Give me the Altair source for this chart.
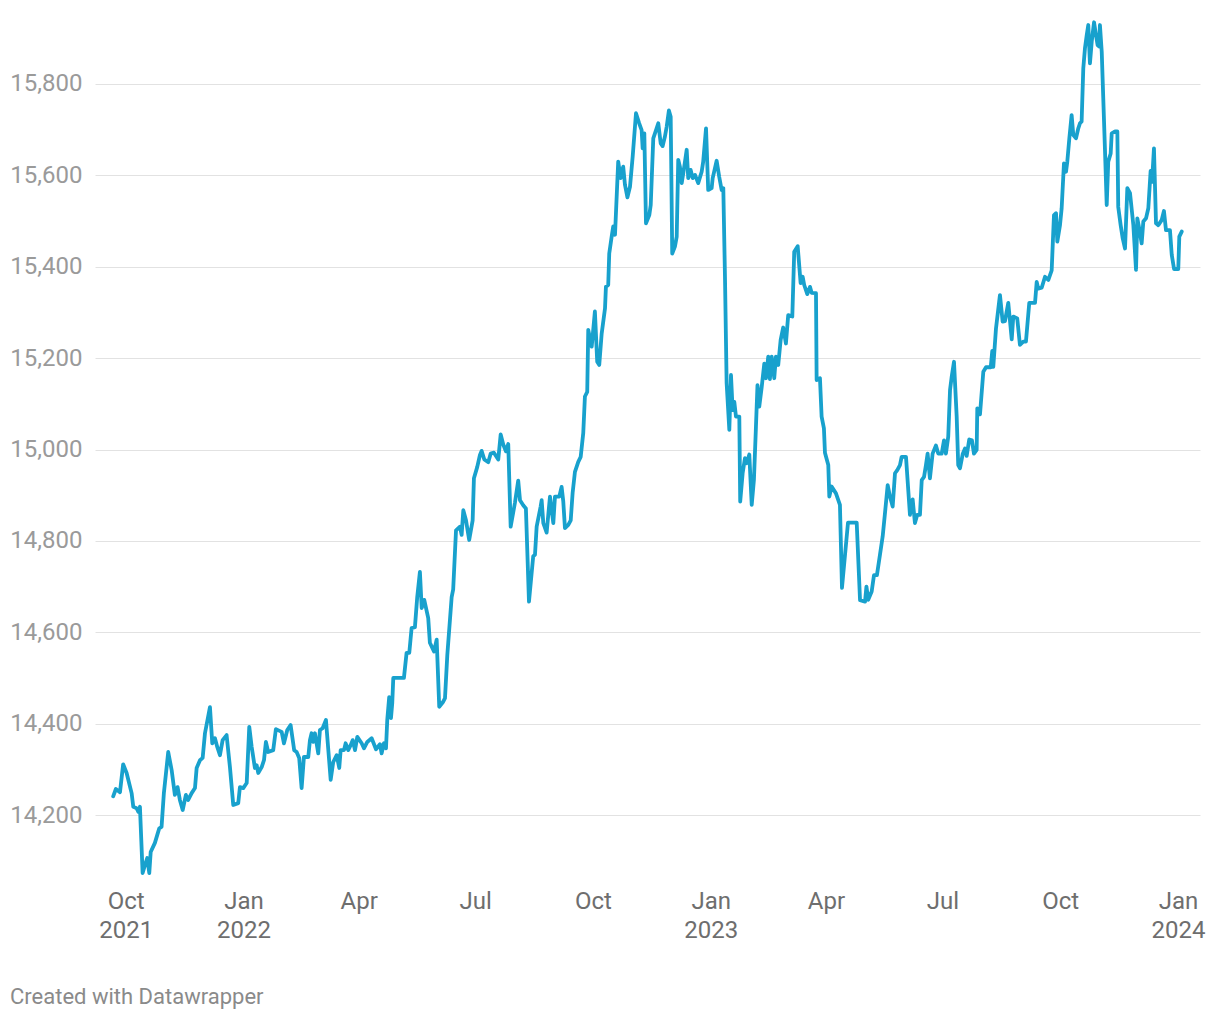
import altair as alt
import pandas as pd

# days after 2021-10-01
days = [
    -9.8, -7.7, -4.5, -2.0, 0.7, 4.6, 5.9, 8.5, 9.8, 11.1, 13.2, 15.0, 16.8, 18.4, 19.5, 22.8, 24.6, 26.2, 28.0, 29.8,
    33.2, 35.9, 38.4, 40.5, 42.3, 44.5, 47.0, 48.8, 51.5, 54.1, 55.4, 58.0, 60.1, 61.9, 65.8, 67.6, 69.7, 71.5, 73.6, 75.7,
    78.8, 81.4, 84.0, 87.9, 89.2, 91.8, 94.5, 96.5, 98.4, 100.9, 102.3, 103.5, 106.2, 108.0, 109.5, 111.3, 115.2, 117.3, 121.8, 123.6,
    126.2, 128.8, 131.6, 133.5, 135.5, 137.4, 139.2, 142.6, 143.9, 145.2, 146.5, 147.8, 150.4, 151.7, 153.8, 156.4, 160.1, 162.1, 164.8, 166.8,
    167.9, 170.5, 171.8, 173.8, 175.7, 177.3, 179.1, 180.9, 184.3, 186.1, 188.7, 192.1, 195.5, 198.6, 199.9, 201.7, 203.3, 204.3, 205.8, 207.2,
    208.2, 209.0, 217.3, 219.4, 221.5, 223.3, 225.9, 227.7, 229.8, 231.2, 233.2, 236.3, 237.6, 240.8, 242.9, 244.9, 248.0, 249.4, 251.2, 254.6,
    255.8, 258.0, 261.1, 262.4, 263.7, 265.8, 268.3, 271.0, 272.0, 274.6, 276.7, 278.0, 280.1, 283.2, 285.1, 287.6, 291.0, 292.9, 294.9, 297.0,
    298.8, 300.7, 304.0, 306.6, 308.0, 310.5, 312.6, 315.0, 318.3, 319.7, 321.0, 324.1, 324.9, 326.2, 328.8, 331.4, 334.0, 335.3, 338.7, 340.5,
    341.8, 343.1, 345.7, 347.6, 349.1, 350.9, 353.5, 355.4, 357.4, 358.7, 360.5, 361.3, 364.0, 366.5, 368.3, 369.9, 371.8, 374.4, 375.1, 376.9,
    377.7, 379.6, 380.8, 382.2, 384.7, 386.6, 388.6, 390.0, 391.9, 393.9, 396.0, 398.6, 401.1, 403.0, 403.8, 405.1, 406.4, 409.0, 410.1, 412.1,
    414.7, 416.0, 417.9, 419.4, 421.2, 422.6, 424.3, 425.7, 426.9, 429.0, 430.4, 431.6, 432.9, 434.3, 435.5, 438.2, 439.4, 441.3, 442.9, 444.7,
    447.2, 449.9, 451.1, 453.3, 455.0, 457.7, 458.5, 461.6, 463.6, 465.5, 466.8, 468.1, 469.4, 471.5, 472.8, 474.1, 475.4, 476.7, 479.3, 480.0,
    481.9, 483.7, 485.0, 487.1, 489.0, 490.7, 492.3, 493.5, 494.9, 496.8, 498.8, 500.1, 501.9, 503.2, 504.6, 506.6, 507.9, 509.7, 511.6, 513.6,
    515.7, 517.5, 520.7, 522.2, 524.9, 527.2, 528.8, 530.0, 532.4, 534.5, 535.8, 539.2, 539.7, 542.3, 543.6, 545.4, 546.2, 548.8, 549.6, 551.4,
    554.8, 557.9, 559.5, 564.2, 571.0, 573.6, 577.5, 578.6, 580.0, 582.7, 584.5, 586.8, 589.2, 591.3, 593.1, 595.2, 597.0, 599.1, 600.9, 602.7,
    604.8, 606.1, 609.5, 612.6, 614.7, 616.5, 618.3, 620.4, 621.8, 623.6, 625.1, 626.4, 628.2, 630.3, 632.9, 634.7, 637.4, 639.2, 640.7, 642.5,
    643.9, 645.2, 647.0, 649.1, 650.3, 651.7, 653.8, 655.6, 656.9, 658.9, 661.0, 662.6, 664.7, 665.2, 667.3, 669.9, 672.0, 675.7, 676.9, 677.7,
    679.8, 682.9, 685.0, 686.8, 689.4, 692.1, 693.3, 696.4, 698.5, 701.1, 703.2, 705.8, 710.3, 711.6, 712.8, 715.5, 718.1, 720.7, 723.3, 725.1,
    726.7, 727.7, 729.8, 731.1, 732.9, 734.5, 735.5, 737.1, 738.9, 740.2, 742.3, 744.1, 745.4, 746.7, 748.0, 749.3, 750.7, 751.9, 753.2, 754.6,
    756.4, 757.9, 759.2, 760.3, 761.0, 762.4, 763.6, 764.9, 766.3, 767.5, 769.4, 770.2, 772.8, 774.6, 775.3, 777.2, 778.8, 780.6, 782.4, 784.5,
    787.1, 789.2, 790.2, 791.7, 793.6, 794.9, 797.0, 798.8, 800.6, 801.7, 803.2, 804.8, 806.6, 809.2, 811.0, 812.6, 815.7, 817.1, 818.9, 822.2,
    823.0, 824.9,
]

values = [
    14241, 14257, 14250, 14311, 14292, 14248, 14218, 14215, 14207, 14218, 14073, 14090, 14106, 14073, 14119, 14139, 14156, 14171, 14174, 14248,
    14338, 14298, 14244, 14261, 14233, 14211, 14244, 14233, 14248, 14259, 14303, 14320, 14325, 14379, 14436, 14357, 14368, 14349, 14331, 14364,
    14375, 14305, 14222, 14226, 14261, 14259, 14270, 14393, 14349, 14303, 14309, 14292, 14305, 14320, 14360, 14338, 14342, 14388, 14382, 14357,
    14386, 14397, 14342, 14338, 14325, 14259, 14327, 14327, 14364, 14379, 14360, 14379, 14335, 14386, 14390, 14408, 14277, 14316, 14331, 14303,
    14342, 14342, 14357, 14342, 14353, 14364, 14342, 14371, 14357, 14346, 14360, 14368, 14344, 14355, 14335, 14357, 14346, 14408, 14458, 14412,
    14445, 14500, 14500, 14555, 14555, 14609, 14611, 14677, 14732, 14653, 14671, 14631, 14577, 14558, 14584, 14437, 14448, 14456, 14550, 14677,
    14694, 14823, 14831, 14813, 14867, 14845, 14802, 14845, 14937, 14962, 14988, 14997, 14978, 14972, 14991, 14993, 14978, 15033, 15011, 14996,
    15012, 14831, 14883, 14932, 14889, 14878, 14871, 14667, 14766, 14770, 14831, 14875, 14889, 14839, 14818, 14897, 14839, 14897, 14897, 14918,
    14886, 14828, 14835, 14845, 14905, 14951, 14973, 14984, 15036, 15116, 15126, 15262, 15225, 15302, 15192, 15185, 15254, 15309, 15356, 15360,
    15429, 15466, 15488, 15470, 15630, 15594, 15619, 15579, 15552, 15575, 15641, 15736, 15714, 15699, 15659, 15692, 15495, 15513, 15535, 15681,
    15703, 15714, 15670, 15664, 15685, 15707, 15742, 15728, 15429, 15444, 15466, 15634, 15619, 15583, 15604, 15656, 15594, 15612, 15594, 15601,
    15583, 15608, 15630, 15703, 15568, 15572, 15594, 15632, 15597, 15568, 15572, 15378, 15145, 15043, 15163, 15086, 15104, 15072, 15072, 14886,
    14948, 14981, 14970, 14989, 14879, 14933, 15050, 15141, 15094, 15137, 15188, 15156, 15203, 15154, 15203, 15156, 15203, 15185, 15240, 15267,
    15232, 15294, 15291, 15433, 15445, 15364, 15378, 15360, 15340, 15356, 15343, 15342, 15152, 15156, 15072, 15046, 14993, 14966, 14897, 14919,
    14904, 14879, 14697, 14840, 14840, 14670, 14667, 14700, 14671, 14689, 14725, 14725, 14770, 14810, 14861, 14922, 14897, 14875, 14948, 14955,
    14966, 14984, 14984, 14857, 14891, 14839, 14857, 14857, 14933, 14940, 14966, 14991, 14937, 14991, 15009, 14991, 14991, 15020, 14991, 15028,
    15130, 15159, 15192, 15072, 14966, 14959, 14990, 15002, 14986, 15022, 15020, 14991, 14999, 15090, 15077, 15170, 15180, 15180, 15216, 15181,
    15265, 15338, 15280, 15281, 15321, 15241, 15291, 15287, 15229, 15236, 15236, 15321, 15321, 15367, 15352, 15354, 15378, 15371, 15392, 15513,
    15517, 15455, 15491, 15528, 15626, 15608, 15630, 15681, 15732, 15688, 15681, 15703, 15714, 15718, 15834, 15878, 15907, 15929, 15845, 15893,
    15935, 15907, 15885, 15882, 15929, 15871, 15769, 15659, 15535, 15630, 15648, 15692, 15696, 15696, 15531, 15491, 15462, 15440, 15572, 15561,
    15491, 15393, 15506, 15484, 15451, 15499, 15506, 15528, 15610, 15586, 15659, 15495, 15491, 15502, 15522, 15480, 15480, 15426, 15395, 15395,
    15466, 15477,
]

y_ticks = [14200, 14400, 14600, 14800, 15000, 15200, 15400, 15600, 15800]
x_tick_dates = [(2021, 10), (2022, 1), (2022, 4), (2022, 7), (2022, 10),
                (2023, 1), (2023, 4), (2023, 7), (2023, 10), (2024, 1)]
footer_text = "Created with Datawrapper"

assert len(days) == len(values)

base = pd.Timestamp("2021-10-01")
df = pd.DataFrame({
    "date": base + pd.to_timedelta(days, unit="D"),
    "value": values,
})

FONT = "Roboto"

x_enc = alt.X(
    "date:T",
    scale=alt.Scale(domain=[alt.DateTime(year=2021, month=9, date=7),
                            alt.DateTime(year=2024, month=1, date=18, hours=4)]),
    axis=alt.Axis(
        values=[alt.DateTime(year=y, month=m, date=1) for y, m in x_tick_dates],
        labelExpr="(month(datum.value) == 0 || year(datum.value) == 2021) ? "
                  "[timeFormat(datum.value, '%b'), timeFormat(datum.value, '%Y')] : "
                  "timeFormat(datum.value, '%b')",
        title=None, grid=False, domain=False, ticks=False,
        labelFont=FONT, labelFontSize=24, labelColor="#6e6e6e",
        labelPadding=10, labelLineHeight=29, labelFlush=False, labelOverlap=False,
        labelBaseline="top",
    ),
)

y_enc = alt.Y(
    "value:Q",
    scale=alt.Scale(domain=[14060, 15940], nice=False, zero=False),
    axis=alt.Axis(
        values=y_ticks, format=",.0f", title=None, domain=False, ticks=False,
        labelFont=FONT, labelFontSize=24, labelColor="#9a9a9a", labelPadding=13,
        grid=True, gridColor="#e2e2e2", gridWidth=1,
    ),
)

line = alt.Chart(df).mark_line(
    color="#18a1cd", strokeWidth=3.8, strokeJoin="round", strokeCap="round"
).encode(x=x_enc, y=y_enc)

footer = alt.Chart(pd.DataFrame({"t": [footer_text]})).mark_text(
    align="left", baseline="alphabetic", font=FONT, fontSize=22, color="#8a8a8a"
).encode(x=alt.value(-85), y=alt.value(984), text="t:N")

chart = alt.layer(line, footer).properties(
    width=1105, height=859,
    autosize=alt.AutoSizeParams(type="none"),
    padding={"left": 87, "top": 12, "right": 12, "bottom": 130},
    background="white",
).configure_view(strokeWidth=0, stroke=None)

chart.save("out.html", embed_options={"renderer": "svg", "actions": False})
